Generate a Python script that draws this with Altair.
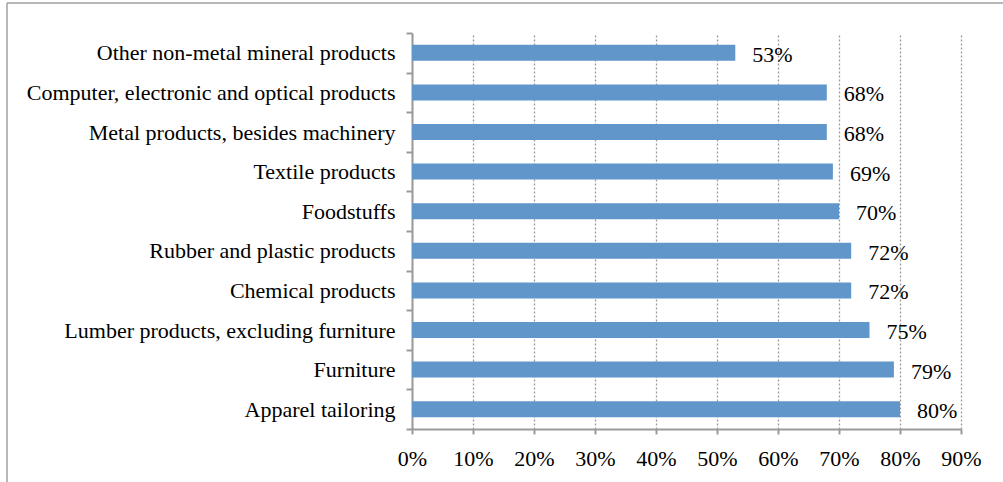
import altair as alt
import pandas as pd

categories = [
    "Other non-metal mineral products",
    "Computer, electronic and optical products",
    "Metal products, besides machinery",
    "Textile products",
    "Foodstuffs",
    "Rubber and plastic products",
    "Chemical products",
    "Lumber products, excluding furniture",
    "Furniture",
    "Apparel tailoring",
]
values = [0.53, 0.68, 0.68, 0.69, 0.70, 0.72, 0.72, 0.75, 0.79, 0.80]
x_ticks = [0, 0.1, 0.2, 0.3, 0.4, 0.5, 0.6, 0.7, 0.8, 0.9]

df = pd.DataFrame({"cat": categories, "val": values})

FONT = "Liberation Serif"
GRAY = "#9a9a9a"
FS = 22

base = alt.Chart(df)

y_enc = alt.Y(
    "cat:N",
    sort=categories,
    title=None,
    scale=alt.Scale(paddingInner=0, paddingOuter=0),
    axis=alt.Axis(
        tickBand="extent",
        ticks=True,
        tickSize=6,
        tickColor=GRAY,
        tickWidth=2,
        domainColor=GRAY,
        domainWidth=2,
        labelFont=FONT,
        labelFontSize=FS,
        labelColor="#000000",
        labelPadding=11,
        labelLimit=500,
        grid=False,
    ),
)

x_enc = alt.X(
    "val:Q",
    title=None,
    scale=alt.Scale(domain=[0, 0.9], nice=False),
    axis=alt.Axis(
        values=x_ticks,
        format=".0%",
        grid=True,
        gridColor=GRAY,
        gridDash=[2, 2],
        gridWidth=1.3,
        tickSize=5,
        tickColor=GRAY,
        tickWidth=2,
        domainColor=GRAY,
        domainWidth=2,
        labelFont=FONT,
        labelFontSize=FS,
        labelColor="#000000",
        labelPadding=14,
        labelFlush=False,
        labelOverlap=False,
    ),
)

bars = base.mark_bar(color="#6096C9", size=16).encode(x=x_enc, y=y_enc)

labels = base.mark_text(
    align="left", baseline="middle", dx=17, dy=2, font=FONT, fontSize=FS, color="#000000"
).encode(
    x=alt.X("val:Q"),
    y=alt.Y("cat:N", sort=categories),
    text=alt.Text("val:Q", format=".0%"),
)

border_df = pd.DataFrame({"a": [0]})
left_border = alt.Chart(border_df).mark_rule(color="#a0a0a0", strokeWidth=1.5, clip=False).encode(
    x=alt.value(-405), y=alt.value(-30), y2=alt.value(460)
)
top_border = alt.Chart(border_df).mark_rule(color="#a0a0a0", strokeWidth=1.5, clip=False).encode(
    y=alt.value(-30), x=alt.value(-405), x2=alt.value(600)
)

chart = (
    alt.layer(bars, labels, left_border, top_border)
    .properties(
        width=549,
        height=396,
        autosize=alt.AutoSizeParams(type="none"),
        padding={"left": 412, "top": 33, "right": 42, "bottom": 53},
        background="#ffffff",
    )
    .configure_view(stroke=None)
)

chart.save("out.html", embed_options={"renderer": "svg", "actions": False})
